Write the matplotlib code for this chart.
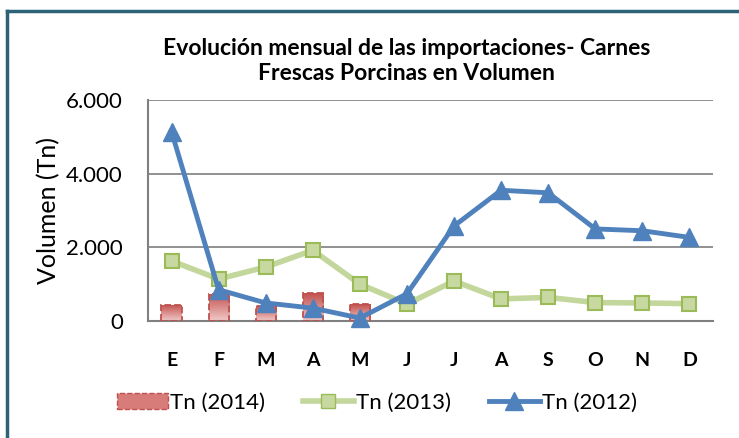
import numpy as np
import matplotlib.pyplot as plt
from matplotlib.lines import Line2D

meses = ['E', 'F', 'M', 'A', 'M', 'J', 'J', 'A', 'S', 'O', 'N', 'D']
tn_2014 = [440, 740, 410, 760, 460]
tn_2013 = [1630, 1140, 1465, 1920, 1000, 460, 1085, 600, 640, 500, 490, 470]
tn_2012 = [5140, 850, 490, 350, 80, 740, 2580, 3550, 3480, 2500, 2450, 2270]

plt.rcParams['font.family'] = ['Lato', 'DejaVu Sans']

fig = plt.figure(figsize=(7.39, 4.38), dpi=100)
ax = fig.add_axes([148/739, 1 - 321/438, (713-148)/739, (321-100)/438])

x = np.arange(len(meses))

# 2014: bars with gradient fill and dashed edge
x14 = x[:len(tn_2014)]
bars = ax.bar(x14, tn_2014, width=0.43, facecolor='none', edgecolor='#c0504d',
              linestyle='--', linewidth=1.3, zorder=3)
grad = np.linspace(0, 1, 100).reshape(-1, 1)
cmap = plt.matplotlib.colors.LinearSegmentedColormap.from_list('g', ['#f2c9c8', '#c0504d'])
for b in bars:
    im = ax.imshow(grad, cmap=cmap, aspect='auto', origin='lower',
                   extent=[b.get_x(), b.get_x() + b.get_width(), 0, b.get_height()], zorder=2)
    im.set_clip_path(b)

ax.plot(x, tn_2013, color='#c3d69b', linewidth=4, marker='s', markersize=10,
        markerfacecolor='#c7d9a0', markeredgecolor='#9bbb59', markeredgewidth=1.5, zorder=4)
ax.plot(x, tn_2012, color='#4f81bd', linewidth=3.5, marker='^', markersize=13,
        markerfacecolor='#4f81bd', markeredgecolor='#4f81bd', zorder=5, clip_on=False)

ax.set_xlim(-0.5, 11.5)
ax.set_ylim(0, 6000)
ax.set_yticks([0, 2000, 4000, 6000])
ax.set_yticklabels(['0', '2.000', '4.000', '6.000'], fontsize=16)
ax.set_xticks(x)
ax.set_xticklabels(meses, fontsize=14, fontweight='bold')
ax.tick_params(axis='x', length=0, pad=22)
ax.tick_params(axis='y', length=0, pad=18)
ax.grid(axis='y', color='#888888', linewidth=1.3)
ax.set_axisbelow(True)
for s in ['top', 'right']:
    ax.spines[s].set_visible(False)
for s in ['left', 'bottom']:
    ax.spines[s].set_color('#808080')
    ax.spines[s].set_linewidth(1.5)

ax.set_ylabel('Volumen (Tn)', fontsize=18, labelpad=4)

fig.text(0.55, 1 - 61/438, 'Evolución mensual de las importaciones- Carnes\nFrescas Porcinas en Volumen',
         ha='center', va='center', fontsize=16.5, fontweight='bold', linespacing=1.25)

# legend
h14 = plt.Rectangle((0, 0), 1, 1, facecolor='#d87c7a', edgecolor='#c0504d', linestyle='--')
h13 = Line2D([], [], color='#c3d69b', linewidth=4, marker='s', markersize=10,
             markerfacecolor='#c7d9a0', markeredgecolor='#9bbb59')
h12 = Line2D([], [], color='#4f81bd', linewidth=3.5, marker='^', markersize=13)
fig.legend([h14, h13, h12], ['Tn (2014)', 'Tn (2013)', 'Tn (2012)'], loc='center',
           bbox_to_anchor=(0.51, 1 - 403/438), ncol=3, frameon=False, fontsize=16,
           handlelength=2.3, handletextpad=0.1, columnspacing=1.7)

# outer border (top and left visible)
fig.add_artist(Line2D([7/739, 1], [1 - 11/438, 1 - 11/438], color='#2e6278', linewidth=2.5))
fig.add_artist(Line2D([7/739, 7/739], [0, 1 - 11/438], color='#2e6278', linewidth=2.5))

fig.savefig('out.png', dpi=100)
